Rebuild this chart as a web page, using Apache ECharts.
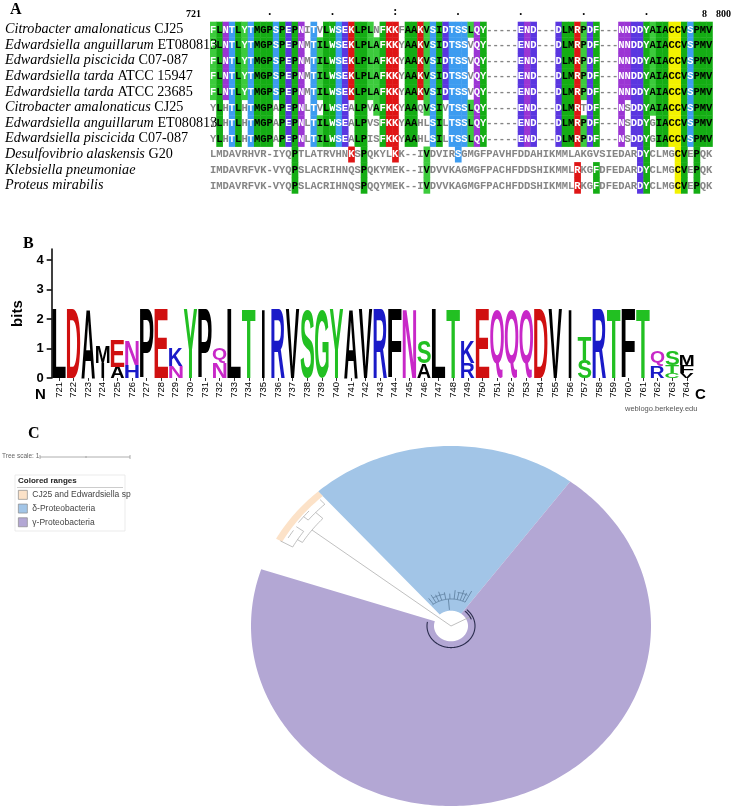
<!DOCTYPE html>
<html><head><meta charset="utf-8">
<script src="https://cdn.jsdelivr.net/npm/echarts@6/dist/echarts.min.js"></script>
<style>html,body{margin:0;padding:0;background:#fff}#c{width:742px;height:807px}</style>
</head><body><div id="c"></div>
<script>
// ================= Panel A: alignment =================
const seqNames = [
  ['Citrobacter amalonaticus', 'CJ25'],
  ['Edwardsiella anguillarum', 'ET080813'],
  ['Edwardsiella piscicida', 'C07-087'],
  ['Edwardsiella tarda', 'ATCC 15947'],
  ['Edwardsiella tarda', 'ATCC 23685'],
  ['Citrobacter amalonaticus', 'CJ25'],
  ['Edwardsiella anguillarum', 'ET080813'],
  ['Edwardsiella piscicida', 'C07-087'],
  ['Desulfovibrio alaskensis', 'G20'],
  ['Klebsiella pneumoniae', ''],
  ['Proteus mirabilis', '']
];
const sequences = [
  'FLNTLYTMGPSPEPNITVLWSEKLPLNFKKFAAKVSIDTSSLQY-----END---DLMRPDF---NNDDYAIACCVSPMV',
  'FLNTLYTMGPSPEPNMTILWSEKLPLAFKKYAAKVSIDTSSVQY-----END---DLMRPDF---NNDDYAIACCVSPMV',
  'FLNTLYTMGPSPEPNMTILWSEKLPLAFKKYAAKVSIDTSSVQY-----END---DLMRPDF---NNDDYAIACCVSPMV',
  'FLNTLYTMGPSPEPNMTILWSEKLPLAFKKYAAKVSIDTSSVQY-----END---DLMRPDF---NNDDYAIACCVSPMV',
  'FLNTLYTMGPSPEPNMTILWSEKLPLAFKKYAAKVSIDTSSVQY-----END---DLMRPDF---NNDDYAIACCVSPMV',
  'YLHTLHTMGPAPEPNLTVLWSEALPVAFKKYAAQVSIVTSSLQY-----END---DLMRTDF---NSDDYAIACCVSPMV',
  'YLHTLHTMGPAPEPNLTILWSEALPVSFKKYAAHLSILTSSLQY-----END---DLMRPDF---NSDDYGIACCVSPMV',
  'YLHTLHTMGPAPEPNLTILWSEALPISFKKYAAHLSILTSSLQY-----END---DLMRPDF---NSDDYGIACCVSPMV',
  'LMDAVRHVR-IYQPTLATRVHNKSPQKYLKK--IVDVIRSGMGFPAVHFDDAHIKMMLAKGVSIEDARDYCLMGCVEPQK',
  'IMDAVRFVK-VYQPSLACRIHNQSPQKYMEK--IVDVVKAGMGFPACHFDDSHIKMMLRKGFDFEDARDYCLMGCVEPQK',
  'IMDAVRFVK-VYQPSLACRIHNQSPQQYMEK--IVDVVKAGMGFPACHFDDSHIKMMLRKGFDFEDARDYCLMGCVEPQK'
];
const alignStart = 721;
const rulerDots = {9: '.', 19: '.', 29: ':', 39: '.', 49: '.', 59: '.', 69: '.'};
const rulerEnds = ['721', '8', '800'];
const unshadedCols = [15, 30];

// ================= Panel B: sequence logo =================
const logoPositions = [721,722,723,724,725,726,727,728,729,730,731,732,733,734,735,736,737,738,739,740,741,742,
  743,744,745,746,747,748,749,750,751,752,753,754,755,756,757,758,759,760,761,762,763,764];
const logoLetters = ['L','D','A','IM','AE','HN','P','E','NK','Y','P','NQ','L','T','I','R','V','S','G','Y','A','V',
  'R','F','N','AS','L','T','RK','E','Q','Q','Q','D','V','I','ST','R','T','F','T','RQ','CTS','VFM'];
const logoHeights = [[2.33],[2.33],[2.33],[0.52,0.58],[0.37,0.9],[0.45,0.82],[2.33],[2.33],[0.4,0.6],[2.33],[2.33],[0.52,0.48],
  [2.33],[2.33],[2.33],[2.33],[2.33],[2.33],[2.33],[2.33],[2.33],[2.33],
  [2.33],[2.33],[2.33],[0.5,0.74],[2.33],[2.33],[0.5,0.74],[2.33],[2.33],[2.33],[2.33],[2.33],[2.33],[2.33],
  [0.6,0.78],[2.33],[2.33],[2.33],[2.33],[0.38,0.52],[0.16,0.28,0.5],[0.17,0.27,0.33]];
const bitsTicks = [0, 1, 2, 3, 4];

// ================= Panel C: tree with colored ranges =================
const rangeNames = ['CJ25 and Edwardsiella sp', 'δ-Proteobacteria', 'γ-Proteobacteria'];
const rangeColors = ['#fce2c8', '#a2c5e7', '#b3a7d4'];
const rangeStartDeg = [131.6, 53.4, 161.6];
const rangeEndDeg = [151, 131.6, 413.4];
const rangeInner = [0.965, 0.085, 0.085];
const rangeOuter = [1.0, 1.0, 1.0];
// tree branches: [kind (0 radial, 1 arc), angle0, angle1, r0, r1, styleGroup]
const treeBranches = [
  [0, 142.5, 0, 0.0, 0.876, 0],
  [1, 137, 148, 0.876, 0, 0],
  [0, 137, 0, 0.876, 0.925, 0],
  [0, 148, 0, 0.876, 0.905, 0],
  [1, 144.5, 151, 0.905, 0, 0],
  [0, 144.5, 0, 0.905, 0.95, 0],
  [0, 151, 0, 0.905, 0.975, 0],
  [1, 133, 140.5, 0.925, 0, 0],
  [0, 133, 0, 0.925, 0.96, 0],
  [0, 140.5, 0, 0.925, 0.955, 0],
  [1, 138, 143, 0.955, 0, 0],
  [1, 146, 149, 0.95, 0, 0],
  [0, 28, 0, 0.0, 0.12, 0],
  [1, 169, 409, 0.12, 0, 1],
  [1, 20, 50, 0.108, 0, 1],
  [0, 95, 0, 0.09, 0.15, 2],
  [1, 62, 128, 0.15, 0, 2],
  [0, 62, 0, 0.15, 0.22, 2], [0, 67, 0, 0.15, 0.2, 2], [0, 72, 0, 0.15, 0.21, 2],
  [0, 78, 0, 0.15, 0.19, 2], [0, 84, 0, 0.15, 0.2, 2], [0, 92, 0, 0.15, 0.18, 2],
  [0, 100, 0, 0.15, 0.19, 2], [0, 108, 0, 0.15, 0.2, 2], [0, 114, 0, 0.15, 0.19, 2],
  [0, 120, 0, 0.15, 0.2, 2], [0, 126, 0, 0.15, 0.19, 2],
  [1, 64, 80, 0.19, 0, 2], [1, 100, 120, 0.18, 0, 2]
];
const treeColors = ['#b0b0b0', '#2b2d4e', '#5b7b9b'];

// ================= helpers =================
const nCols = sequences[0].length;
const alignPositions = [];
for (let i = 0; i < nCols; i++) alignPositions.push(String(alignStart + i));

const consensus = [];
for (let c = 0; c < nCols; c++) {
  const cnt = {};
  for (let r = 0; r < 8; r++) { const ch = sequences[r][c]; if (ch === '-') continue; cnt[ch] = (cnt[ch] || 0) + 1; }
  let best = '', bc = 0;
  Object.keys(cnt).forEach(k => { if (cnt[k] > bc) { bc = cnt[k]; best = k; } });
  consensus.push({ch: best, count: bc});
}
const resGroup = {A:'g',I:'g',L:'g',M:'g',F:'g',W:'g',V:'g',Y:'g',G:'g',P:'g',H:'g',S:'c',T:'c',D:'b',E:'b',N:'p',Q:'p',K:'r',R:'r',C:'y'};
const groupBg = {c:'#3d9cf0', b:'#5a36e0', p:'#9b35d4', r:'#df1515', y:'#f2f200'};
function cellStyle(r, c) {
  const ch = sequences[r][c];
  const cons = consensus[c];
  const gray = {bg: null, fg: '#858585'};
  if (ch === '-' || unshadedCols.indexOf(c) >= 0) return gray;
  if (ch !== cons.ch || cons.count < 4) return gray;
  const g = resGroup[ch];
  if (!g) return gray;
  if (g === 'g') {
    return {bg: cons.count === 8 ? '#14ad14' : '#3ccb3c', fg: ('FWY'.indexOf(ch) >= 0) ? '#ffffff' : '#000000'};
  }
  if (g === 'y') return {bg: groupBg.y, fg: '#000000'};
  return {bg: groupBg[g], fg: '#ffffff'};
}
const alignData = [];
for (let r = 0; r < sequences.length; r++) for (let c = 0; c < nCols; c++) alignData.push([c, r]);

const logoColor = {A:'#000',F:'#000',I:'#000',L:'#000',M:'#000',P:'#000',V:'#000',W:'#000',
  G:'#22c022',S:'#22c022',T:'#22c022',Y:'#22c022',C:'#22c022',
  K:'#1a1ac8',R:'#1a1ac8',H:'#1a1ac8',D:'#d01010',E:'#d01010',N:'#c828c8',Q:'#c828c8'};
const logoMarks = [];
logoLetters.forEach((s, i) => {
  let base = 0;
  for (let k = 0; k < s.length; k++) {
    const h = logoHeights[i][k];
    logoMarks.push({col: i, y0: base, y1: base + h, ch: s[k]});
    base += h;
  }
});
const LOGO_FONT = 'bold 100px "Liberation Sans"';
const mctx = document.createElement('canvas').getContext('2d');
mctx.font = LOGO_FONT; mctx.textBaseline = 'middle'; mctx.textAlign = 'left';
const glyphBox = {};
function gbox(ch) {
  if (!glyphBox[ch]) {
    const m = mctx.measureText(ch);
    glyphBox[ch] = {l: m.actualBoundingBoxLeft, r: m.actualBoundingBoxRight, a: m.actualBoundingBoxAscent, d: m.actualBoundingBoxDescent};
  }
  return glyphBox[ch];
}

function alignItem(params, api) {
  const c = api.value(0), r = api.value(1);
  const p = api.coord([c, r]);
  const s = api.size([1, 1]);
  const st = cellStyle(r, c);
  const children = [];
  if (st.bg) children.push({type: 'rect', shape: {x: p[0] - s[0] / 2, y: p[1] - s[1] / 2, width: s[0] + 0.4, height: s[1] + 0.4}, style: {fill: st.bg}});
  children.push({type: 'text', x: p[0], y: p[1] + 0.5, style: {text: sequences[r][c], fill: st.fg, font: 'bold 10.5px "Liberation Mono"', align: 'center', verticalAlign: 'middle'}});
  return {type: 'group', children};
}
function logoItem(params, api) {
  const m = logoMarks[params.dataIndex];
  const pBot = api.coord([api.value(0), api.value(1)]);
  const pTop = api.coord([api.value(0), api.value(2)]);
  const bw = api.size([1, 0])[0];
  const w = m.ch === 'I' ? bw * 0.2 : bw * 0.93;
  const h = pBot[1] - pTop[1];
  const g = gbox(m.ch);
  const sx = w / (g.l + g.r), sy = h / (g.a + g.d);
  return {type: 'text', x: pBot[0] - w / 2 + g.l * sx, y: pTop[1] + g.a * sy, scaleX: sx, scaleY: sy,
    style: {text: m.ch, font: LOGO_FONT, fill: logoColor[m.ch] || '#000', align: 'left', verticalAlign: 'middle'}};
}
function sectorItem(params, api) {
  const a0 = api.value(0), a1 = api.value(1), r0 = api.value(2), r1 = api.value(3);
  const n = Math.max(2, Math.ceil(Math.abs(a1 - a0)));
  const pts = [];
  for (let i = 0; i <= n; i++) { const a = (a0 + (a1 - a0) * i / n) * Math.PI / 180; pts.push(api.coord([r1 * Math.cos(a), r1 * Math.sin(a)])); }
  for (let i = n; i >= 0; i--) { const a = (a0 + (a1 - a0) * i / n) * Math.PI / 180; pts.push(api.coord([r0 * Math.cos(a), r0 * Math.sin(a)])); }
  return {type: 'polygon', shape: {points: pts}, style: {fill: api.visual('color')}};
}
function treeItem(params, api) {
  const b = treeBranches[params.dataIndex];
  const pts = [];
  if (b[0] === 0) {
    const a = b[1] * Math.PI / 180;
    pts.push(api.coord([b[3] * Math.cos(a), b[3] * Math.sin(a)]));
    pts.push(api.coord([b[4] * Math.cos(a), b[4] * Math.sin(a)]));
  } else {
    const n = Math.max(2, Math.ceil(Math.abs(b[2] - b[1])));
    for (let i = 0; i <= n; i++) { const a = (b[1] + (b[2] - b[1]) * i / n) * Math.PI / 180; pts.push(api.coord([b[3] * Math.cos(a), b[3] * Math.sin(a)])); }
  }
  return {type: 'polyline', shape: {points: pts}, style: {stroke: treeColors[b[5]], lineWidth: b[5] === 1 ? 1.1 : 0.8, fill: null}};
}

const sectorSeries = rangeNames.map((name, i) => ({
  type: 'custom', name: name, xAxisIndex: 2, yAxisIndex: 2, z: 1 + (i === 0 ? 1 : 0),
  itemStyle: {color: rangeColors[i]},
  renderItem: sectorItem,
  encode: {x: 0, y: 1},
  data: [[rangeStartDeg[i], rangeEndDeg[i], rangeInner[i], rangeOuter[i]]]
}));

const chart = echarts.init(document.getElementById('c'), null, {renderer: 'canvas'});
chart.setOption({
  animation: false,
  backgroundColor: '#ffffff',
  grid: [
    {left: 210, top: 21.7, width: 502.4, height: 171.6},
    {left: 51.7, top: 249.1, width: 642.4, height: 128.9},
    {left: 251, top: 446, width: 400, height: 360}
  ],
  xAxis: [
    {gridIndex: 0, type: 'category', data: alignPositions, position: 'top',
      axisLine: {show: false}, axisTick: {show: false}, splitLine: {show: false},
      axisLabel: {interval: 0, margin: 4, fontSize: 12, fontWeight: 'bold', color: '#000', fontFamily: 'Liberation Serif',
        formatter: (v, i) => rulerDots[i] || ''}},
    {gridIndex: 1, type: 'category', data: logoPositions.map(String),
      axisLine: {show: false}, axisTick: {show: true, alignWithLabel: true, length: 3, lineStyle: {color: '#000', width: 0.8}},
      axisLabel: {interval: 0, rotate: 90, margin: 4, fontSize: 9.5, fontFamily: 'Liberation Sans', color: '#000'},
      splitLine: {show: false}},
    {gridIndex: 2, type: 'value', min: -1, max: 1, show: false}
  ],
  yAxis: [
    {gridIndex: 0, type: 'category', inverse: true, z: 10, data: seqNames.map(n => n.join(' ')),
      axisLine: {show: false}, axisTick: {show: false}, splitLine: {show: false},
      axisLabel: {interval: 0, margin: 205, align: 'left',
        formatter: (v, i) => '{i|' + seqNames[i][0] + '}' + (seqNames[i][1] ? '{n| ' + seqNames[i][1] + '}' : ''),
        rich: {i: {fontFamily: 'Liberation Serif', fontStyle: 'italic', fontSize: 14.2, color: '#000'},
               n: {fontFamily: 'Liberation Serif', fontSize: 14.2, color: '#000'}}}},
    {gridIndex: 1, type: 'value', min: 0, max: 4.37, name: 'bits', nameLocation: 'middle', nameGap: 12,
      nameTextStyle: {fontFamily: 'Liberation Sans', fontWeight: 'bold', fontSize: 15, color: '#000'},
      axisLine: {show: true, lineStyle: {color: '#000', width: 1.5}},
      axisTick: {show: true, length: 5, customValues: bitsTicks, lineStyle: {color: '#000', width: 1.5}},
      axisLabel: {customValues: bitsTicks, margin: 8, fontFamily: 'Liberation Sans', fontWeight: 'bold', fontSize: 13, color: '#000'},
      splitLine: {show: false}},
    {gridIndex: 2, type: 'value', min: -1, max: 1, show: false}
  ],
  legend: {
    data: rangeNames, orient: 'vertical', left: 18, top: 490, padding: 0, itemGap: 4,
    itemWidth: 9, itemHeight: 9, icon: 'rect', selectedMode: false,
    itemStyle: {borderColor: '#8a8a8a', borderWidth: 0.7},
    textStyle: {fontSize: 8.5, color: '#444', fontFamily: 'Liberation Sans'}
  },
  graphic: {elements: [
    {type: 'text', left: 10, top: 2, style: {text: 'A', font: 'bold 16px "Liberation Serif"', fill: '#000'}},
    {type: 'text', left: 186, top: 9, style: {text: rulerEnds[0], font: 'bold 10px "Liberation Serif"', fill: '#000'}},
    {type: 'text', left: 702, top: 9, style: {text: rulerEnds[1], font: 'bold 10px "Liberation Serif"', fill: '#000'}},
    {type: 'text', left: 716, top: 9, style: {text: rulerEnds[2], font: 'bold 10px "Liberation Serif"', fill: '#000'}},
    {type: 'text', left: 23, top: 236, style: {text: 'B', font: 'bold 16px "Liberation Serif"', fill: '#000'}},
    {type: 'text', left: 35, top: 387, style: {text: 'N', font: 'bold 15px "Liberation Sans"', fill: '#000'}},
    {type: 'text', left: 695, top: 387, style: {text: 'C', font: 'bold 15px "Liberation Sans"', fill: '#000'}},
    {type: 'text', left: 625, top: 405, style: {text: 'weblogo.berkeley.edu', font: '7.5px "Liberation Sans"', fill: '#555'}},
    {type: 'text', left: 28, top: 426, style: {text: 'C', font: 'bold 16px "Liberation Serif"', fill: '#000'}},
    {type: 'text', left: 2, top: 453, style: {text: 'Tree scale: 1', font: '6.5px "Liberation Sans"', fill: '#666'}},
    {type: 'line', shape: {x1: 40, y1: 457, x2: 130, y2: 457}, style: {stroke: '#999', lineWidth: 0.8}},
    {type: 'line', shape: {x1: 40, y1: 455, x2: 40, y2: 459}, style: {stroke: '#999', lineWidth: 0.8}},
    {type: 'line', shape: {x1: 130, y1: 455, x2: 130, y2: 459}, style: {stroke: '#999', lineWidth: 0.8}},
    {type: 'line', shape: {x1: 86, y1: 456, x2: 86, y2: 458}, style: {stroke: '#999', lineWidth: 0.8}},
    {type: 'rect', shape: {x: 15, y: 475, width: 110, height: 56}, style: {fill: 'none', stroke: '#e6e6e6', lineWidth: 0.8}},
    {type: 'text', left: 18, top: 477, style: {text: 'Colored ranges', font: 'bold 8px "Liberation Sans"', fill: '#222'}},
    {type: 'line', shape: {x1: 17, y1: 487.5, x2: 123, y2: 487.5}, style: {stroke: '#cccccc', lineWidth: 1.2}}
  ]},
  series: [
    {type: 'custom', name: 'alignment', xAxisIndex: 0, yAxisIndex: 0, renderItem: alignItem, encode: {x: 0, y: 1}, data: alignData, z: 2},
    {type: 'custom', name: 'logo', xAxisIndex: 1, yAxisIndex: 1, renderItem: logoItem, encode: {x: 0, y: [1, 2]},
      data: logoMarks.map(m => [m.col, m.y0, m.y1]), z: 2},
    ...sectorSeries,
    {type: 'custom', name: 'tree', xAxisIndex: 2, yAxisIndex: 2, z: 5, renderItem: treeItem, encode: {x: 0, y: 1},
      data: treeBranches.map((b, i) => [i, 0])}
  ]
});
</script>
</body></html>
